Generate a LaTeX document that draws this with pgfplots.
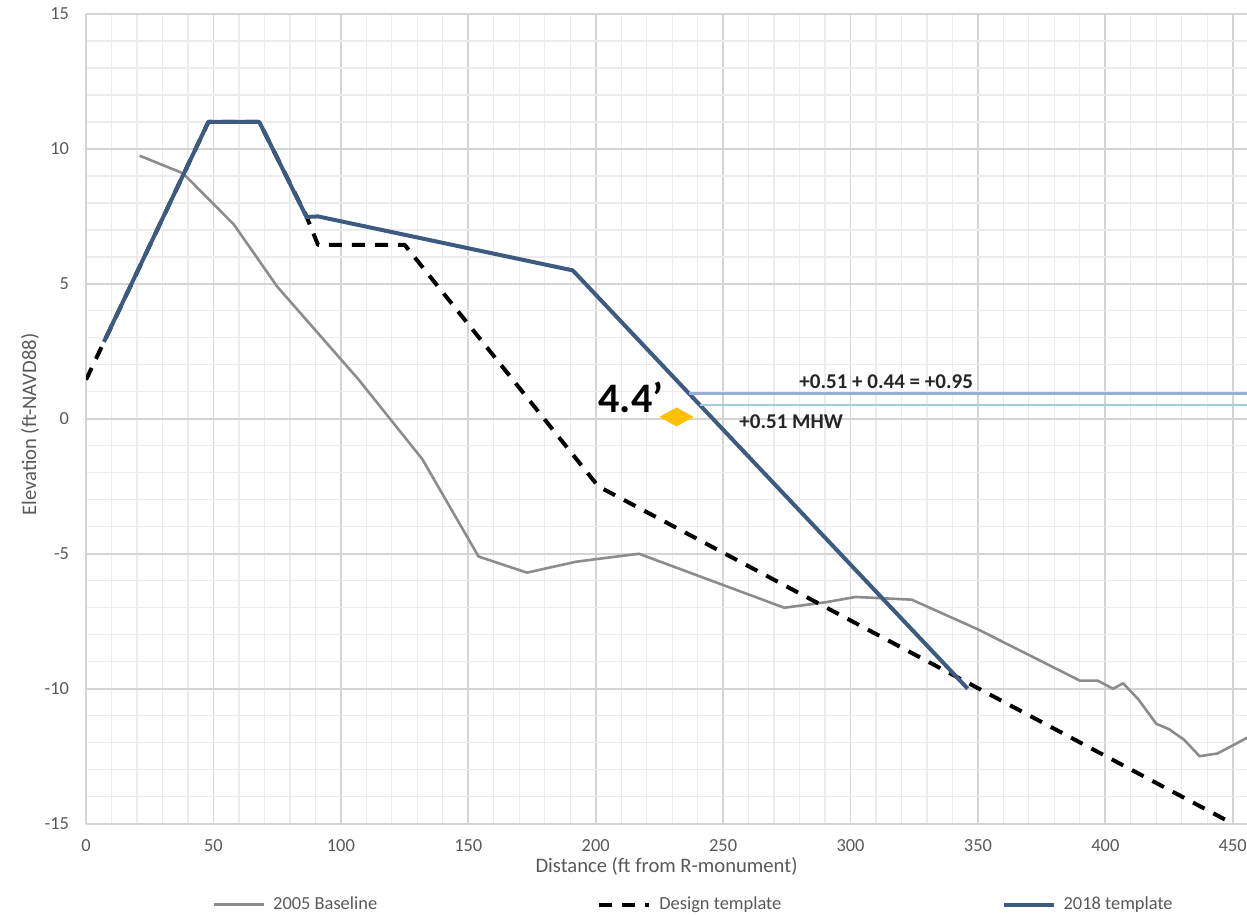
\documentclass[border=0pt]{standalone}
\usepackage{fontspec}
\setmainfont{Carlito}
\usepackage{pgfplots}
\pgfplotsset{compat=1.18}
\definecolor{base}{HTML}{8C8C8C}
\definecolor{t18}{HTML}{3D5A80}
\definecolor{lab}{HTML}{595959}
\definecolor{gmaj}{HTML}{D4D4D4}
\definecolor{gmin}{HTML}{ECECEC}
\definecolor{lA}{HTML}{98AFD3}
\definecolor{lB}{HTML}{A4CBE2}
\definecolor{dia}{HTML}{FFC000}
\begin{document}
\begin{tikzpicture}
\begin{axis}[
  scale only axis, width=580pt, height=404.5pt,
  xmin=0, xmax=455.6, ymin=-15, ymax=15,
  xtick={0,50,...,450}, ytick={-15,-10,...,15},
  minor xtick={10,20,30,40,60,70,80,90,110,120,130,140,160,170,180,190,210,220,230,240,260,270,280,290,310,320,330,340,360,370,380,390,410,420,430,440},
  minor ytick={-14,-13,-12,-11,-9,-8,-7,-6,-4,-3,-2,-1,1,2,3,4,6,7,8,9,11,12,13,14},
  grid=both,
  major grid style={draw=gmaj, line width=0.9pt},
  minor grid style={draw=gmin, line width=0.6pt},
  axis lines=left,
  axis line style={draw=gmaj, line width=0.9pt, -},
  major tick length=0pt, minor tick length=0pt,
  /pgf/number format/assume math mode=true,
  ticklabel style={font=\fontsize{9.2}{10}\selectfont, text=lab},
  xticklabel style={yshift=-4.5pt},
  yticklabel style={xshift=-5pt},
  xlabel={Distance (ft from R-monument)},
  ylabel={Elevation (ft-NAVD88)},
  label style={font=\fontsize{10.3}{12}\selectfont, text=lab},
  xlabel style={at={(axis description cs:0.5,-0.0525)}, anchor=center},
  ylabel style={at={(axis description cs:-0.0483,0.493)}, anchor=center},
  legend style={at={(0.1086,-0.1001)}, anchor=west, draw=none, fill=none,
    inner sep=0pt, font=\fontsize{9.2}{10}\selectfont, text=lab,
    /tikz/every even column/.append style={column sep=108pt}},
  legend columns=3,
  legend image code/.code={\draw[#1] (0pt,0pt) -- (25pt,0pt);},
  line join=round,
]
\addplot[base, line width=1.3pt] coordinates {
 (21,9.75) (38,9.1) (58,7.2) (75,4.9) (107,1.45) (132,-1.5) (154,-5.1)
 (173,-5.7) (192,-5.3) (200,-5.2) (217,-5.0) (274,-7.0) (290,-6.8)
 (302,-6.6) (324,-6.7) (350,-7.8) (390,-9.7) (397,-9.7) (403,-10.0)
 (407,-9.8) (413,-10.4) (420,-11.3) (425,-11.5) (431,-11.9) (437,-12.5)
 (444,-12.4) (456,-11.8)
};
\addlegendentry{\hspace{2pt}2005 Baseline}
\addplot[black, line width=2pt, dash pattern=on 6.5pt off 5pt] coordinates {
 (0,1.45) (48,11) (68,11) (86.5,7.5) (91,6.45) (125,6.45) (201,-2.5) (450,-15)
};
\addlegendentry{\hspace{2pt}Design template}
\addplot[t18, line width=2pt] coordinates {
 (7,2.85) (48,11) (68,11) (86.5,7.48) (91,7.5) (191,5.5) (346,-10)
};
\addlegendentry{\hspace{2pt}2018 template}
\addplot[lA, line width=1.4pt, forget plot] coordinates {(236.5,0.95) (456,0.95)};
\addplot[lB, line width=1.4pt, forget plot] coordinates {(240.9,0.51) (456,0.51)};
\addplot[only marks, mark=diamond*, mark size=4.5pt, color=dia,
  mark options={xscale=2.4, fill=dia, draw=dia}, forget plot] coordinates {(231.7,0.07)};
\node[font=\fontsize{21}{24}\selectfont\bfseries] at (axis cs:213.8,0.78) {4.4’};
\node[font=\fontsize{10.5}{12}\selectfont\bfseries, text=black!85] at (axis cs:314,1.37) {+0.51 + 0.44 = +0.95};
\node[font=\fontsize{10.5}{12}\selectfont\bfseries, text=black!85] at (axis cs:276.7,-0.11) {+0.51 MHW};
\end{axis}
\pgfresetboundingbox
\path[use as bounding box] (-43pt,-46pt) rectangle (580pt,411.5pt);
\end{tikzpicture}
\end{document}
